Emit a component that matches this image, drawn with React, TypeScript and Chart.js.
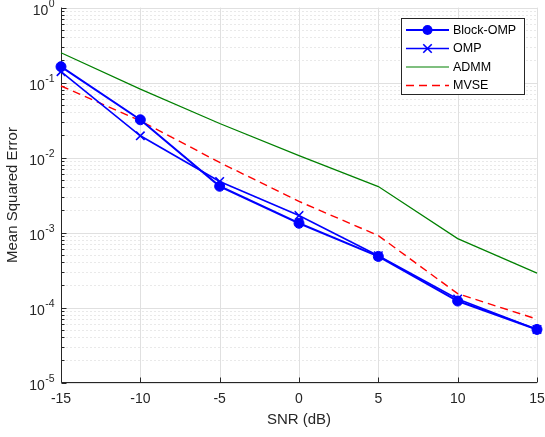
import React, { useEffect, useRef } from 'react';
import { Chart, registerables } from 'chart.js';

Chart.register(...registerables);

const snr = [-15, -10, -5, 0, 5, 10, 15];
const blockOmp = [0.163, 0.0319, 0.00414, 0.00133, 4.8e-4, 1.22e-4, 5.1e-5];
const omp = [0.14, 0.0195, 0.0048, 0.00169, 4.9e-4, 1.3e-4, 5.1e-5];
const admm = [0.25, 0.0817, 0.0285, 0.0106, 0.0041, 8.3e-4, 2.88e-4];
const mvse = [0.09, 0.031, 0.0086, 0.0026, 9.1e-4, 1.53e-4, 7.0e-5];

const seriesNames = ['Block-OMP', 'OMP', 'ADMM', 'MVSE'];
const xTickValues = [-15, -10, -5, 0, 5, 10, 15];
const yDecadeExps = [0, -1, -2, -3, -4, -5];
const xTitle = 'SNR (dB)';
const yTitle = 'Mean Squared Error';

const FONT = '"Liberation Sans", Arial, Helvetica, sans-serif';
const AXIS = '#262626';

export default function App() {
  const ref = useRef<HTMLCanvasElement>(null);

  useEffect(() => {
    document.body.style.margin = '0';
    const canvas = ref.current;
    if (!canvas) return;

    const styles = [
      { color: '#0000ff', width: 2, dash: [] as number[], point: 'circle', radius: 5, fill: true },
      { color: '#0000ff', width: 1.6, dash: [] as number[], point: 'crossRot', radius: 6, fill: false },
      { color: '#008000', width: 1.2, dash: [] as number[], point: false as any, radius: 0, fill: false },
      { color: '#ff0000', width: 1.4, dash: [8, 5], point: false as any, radius: 0, fill: false },
    ];
    const values = [blockOmp, omp, admm, mvse];

    const gridPlugin = {
      id: 'matlabGrid',
      beforeDatasetsDraw(chart: any) {
        const { ctx, chartArea: a, scales } = chart;
        const xs = scales.x;
        const ys = scales.y;
        const L = Math.round(a.left) + 0.5;
        const R = a.right;
        const T = a.top;
        const B = Math.round(a.bottom) - 0.5;
        ctx.save();
        ctx.lineWidth = 1;
        // minor dotted grid
        ctx.strokeStyle = '#d2d2d2';
        ctx.setLineDash([1, 3]);
        for (const e of yDecadeExps) {
          if (e === 0) continue;
          for (let m = 2; m <= 9; m++) {
            const py = Math.round(ys.getPixelForValue(m * Math.pow(10, e))) + 0.5;
            ctx.beginPath();
            ctx.moveTo(L + 1, py);
            ctx.lineTo(R, py);
            ctx.stroke();
          }
        }
        ctx.setLineDash([]);
        // major grid
        ctx.strokeStyle = '#e0e0e0';
        for (const e of yDecadeExps) {
          const py = Math.round(ys.getPixelForValue(Math.pow(10, e))) + 0.5;
          ctx.beginPath();
          ctx.moveTo(L, py);
          ctx.lineTo(R, py);
          ctx.stroke();
        }
        for (const v of xTickValues) {
          const px = Math.round(xs.getPixelForValue(v)) + 0.5;
          ctx.beginPath();
          ctx.moveTo(px, T);
          ctx.lineTo(px, B);
          ctx.stroke();
        }
        // axes
        ctx.strokeStyle = AXIS;
        ctx.beginPath();
        ctx.moveTo(L, T);
        ctx.lineTo(L, B);
        ctx.lineTo(R, B);
        ctx.stroke();
        // y ticks
        for (const e of yDecadeExps) {
          const py = Math.round(ys.getPixelForValue(Math.pow(10, e))) + 0.5;
          ctx.beginPath();
          ctx.moveTo(L, py);
          ctx.lineTo(L + 5, py);
          ctx.stroke();
          if (e === 0) continue;
          for (let m = 2; m <= 9; m++) {
            const pm = Math.round(ys.getPixelForValue(m * Math.pow(10, e))) + 0.5;
            ctx.beginPath();
            ctx.moveTo(L, pm);
            ctx.lineTo(L + 3, pm);
            ctx.stroke();
          }
        }
        // x ticks
        for (const v of xTickValues) {
          const px = Math.round(xs.getPixelForValue(v)) + 0.5;
          ctx.beginPath();
          ctx.moveTo(px, B);
          ctx.lineTo(px, B - 5);
          ctx.stroke();
        }
        // y tick labels 10^e
        ctx.fillStyle = AXIS;
        ctx.textBaseline = 'middle';
        const rightEdge = 54.5;
        for (const e of yDecadeExps) {
          const py = ys.getPixelForValue(Math.pow(10, e));
          const expText = e < 0 ? '-' + String(-e) : String(e);
          ctx.font = `10.5px ${FONT}`;
          const ew = ctx.measureText(expText).width;
          ctx.textAlign = 'left';
          ctx.fillText(expText, rightEdge - ew, py - 3);
          ctx.font = `14px ${FONT}`;
          ctx.textAlign = 'right';
          ctx.fillText('10', rightEdge - ew - 0.3, py + 3.5);
        }
        ctx.restore();
      },
      afterDatasetsDraw(chart: any) {
        const { ctx } = chart;
        ctx.save();
        const bx = 401.5, by = 18.5, bw = 123, bh = 76;
        ctx.fillStyle = '#ffffff';
        ctx.fillRect(bx, by, bw, bh);
        ctx.strokeStyle = AXIS;
        ctx.lineWidth = 1;
        ctx.strokeRect(bx, by, bw, bh);
        const rowY = [30, 48.5, 67, 85.5];
        const x0 = 406, x1 = 449, xm = (x0 + x1) / 2;
        seriesNames.forEach((name, i) => {
          const s = styles[i];
          const yy = rowY[i];
          ctx.strokeStyle = s.color;
          ctx.lineWidth = s.width;
          ctx.setLineDash(s.dash);
          ctx.beginPath();
          ctx.moveTo(x0, yy);
          ctx.lineTo(x1, yy);
          ctx.stroke();
          ctx.setLineDash([]);
          if (s.point === 'circle') {
            ctx.fillStyle = s.color;
            ctx.beginPath();
            ctx.arc(xm, yy, 5, 0, Math.PI * 2);
            ctx.fill();
          } else if (s.point === 'crossRot') {
            const r = 6 * Math.SQRT1_2;
            ctx.beginPath();
            ctx.moveTo(xm - r, yy - r);
            ctx.lineTo(xm + r, yy + r);
            ctx.moveTo(xm - r, yy + r);
            ctx.lineTo(xm + r, yy - r);
            ctx.stroke();
          }
          ctx.fillStyle = '#000000';
          ctx.font = `12.5px ${FONT}`;
          ctx.textAlign = 'left';
          ctx.textBaseline = 'middle';
          ctx.fillText(name, 453, yy + 0.5);
        });
        ctx.restore();
      },
    };

    const chart = new Chart(canvas, {
      type: 'line',
      data: {
        datasets: seriesNames.map((name, i) => ({
          label: name,
          data: snr.map((x, j) => ({ x, y: values[i][j] })),
          borderColor: styles[i].color,
          backgroundColor: styles[i].color,
          borderWidth: styles[i].width,
          borderDash: styles[i].dash,
          pointStyle: styles[i].point,
          pointRadius: styles[i].radius,
          pointBorderWidth: styles[i].point === 'crossRot' ? 1.6 : 1,
          pointBackgroundColor: styles[i].color,
          pointBorderColor: styles[i].color,
          tension: 0,
          clip: false as any,
        })),
      },
      plugins: [gridPlugin],
      options: {
        responsive: false,
        animation: false,
        devicePixelRatio: 1,
        layout: { padding: { left: 0, top: 6.5, right: 0, bottom: 0 } },
        plugins: {
          legend: { display: false },
          tooltip: { enabled: false },
        },
        scales: {
          x: {
            type: 'linear',
            min: -15,
            max: 15,
            afterBuildTicks: (s: any) => {
              s.ticks = xTickValues.map((v) => ({ value: v }));
            },
            afterFit: (s: any) => {
              s.height = 437 - 382.5;
              s.paddingRight = 8;
            },
            grid: { display: false, drawTicks: false },
            border: { display: false },
            ticks: {
              color: AXIS,
              font: { family: FONT, size: 14 },
              padding: 8,
              maxRotation: 0,
              callback: (v: any) => String(v),
            },
            title: {
              display: true,
              text: xTitle,
              color: AXIS,
              font: { family: FONT, size: 15 },
              padding: { top: 0, bottom: 8 },
            },
          },
          y: {
            type: 'logarithmic',
            min: 1e-5,
            max: 1,
            afterFit: (s: any) => {
              s.width = 61;
            },
            grid: { display: false, drawTicks: false },
            border: { display: false },
            ticks: { display: false },
            title: {
              display: true,
              text: yTitle,
              color: AXIS,
              font: { family: FONT, size: 15 },
              padding: { top: 4, bottom: 0 },
            },
          },
        },
      },
    } as any);

    return () => chart.destroy();
  }, []);

  return (
    <div style={{ width: 545, height: 437, position: 'relative' }}>
      <canvas ref={ref} width={545} height={437} style={{ display: 'block', width: 545, height: 437 }} />
    </div>
  );
}
